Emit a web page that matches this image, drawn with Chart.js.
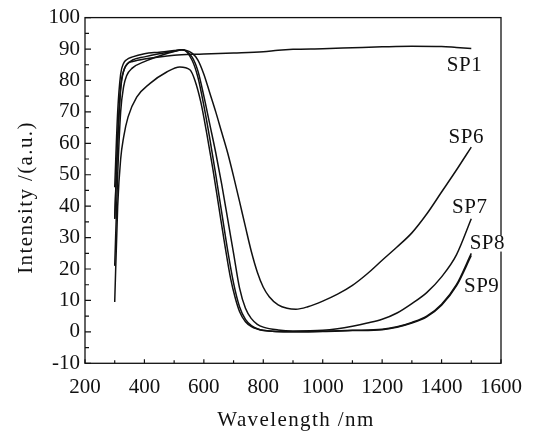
<!DOCTYPE html>
<html>
<head>
<meta charset="utf-8">
<script src="https://cdn.jsdelivr.net/npm/chart.js@4.4.1/dist/chart.umd.min.js"></script>
<style>
  html, body { margin: 0; padding: 0; background: #fff; }
  #wrap { width: 534px; height: 432px; }
</style>
</head>
<body>
<div id="wrap"><canvas id="spectraChart" width="534" height="432"></canvas></div>
<script>
// wavelength (nm) / intensity (a.u.)
var sp1Wl  = [300, 310, 320, 330, 345, 360, 400, 450, 500, 560, 600, 700, 800, 850, 900, 1000, 1100, 1200, 1300, 1400, 1450, 1500];
var sp1Int = [36, 60, 77, 83, 85.5, 86, 86.8, 87.5, 88, 88.3, 88.4, 88.7, 89.1, 89.6, 89.9, 90.1, 90.4, 90.7, 90.9, 90.8, 90.5, 90.2];

var sp6Wl  = [300, 310, 320, 330, 340, 360, 400, 450, 500, 525, 560, 580, 600, 620, 640, 660, 680, 700, 720, 740, 760, 780, 800, 820, 850, 880, 910, 950, 1000, 1050, 1100, 1150, 1200, 1250, 1300, 1350, 1400, 1450, 1500];
var sp6Int = [46, 70, 82, 85.5, 86.6, 87.5, 88.5, 89, 89.5, 89.8, 88.7, 86.5, 82, 76, 70, 63.5, 57, 49.5, 41.5, 33.4, 25.5, 19, 14.2, 11.2, 8.6, 7.5, 7.2, 8, 9.8, 12, 14.8, 18.5, 22.8, 27, 31.5, 37.5, 44.5, 51.5, 58.8];

var sp7Wl  = [300, 310, 320, 330, 340, 360, 400, 450, 500, 525, 560, 580, 600, 620, 640, 660, 680, 700, 720, 740, 760, 780, 800, 850, 900, 1000, 1050, 1100, 1150, 1200, 1250, 1300, 1350, 1400, 1450, 1500];
var sp7Int = [36, 62, 78, 83, 85, 86.5, 87.5, 88.5, 89.3, 89.8, 87.5, 83, 75, 66, 57, 47, 36, 25, 14, 7.5, 4.2, 2.4, 1.5, 0.6, 0.3, 0.5, 1, 1.8, 2.8, 4, 6, 9, 12.5, 17.5, 24.5, 36];

var sp8Wl  = [300, 310, 320, 330, 340, 360, 400, 450, 500, 530, 560, 580, 600, 620, 640, 660, 680, 700, 720, 740, 760, 780, 800, 900, 1000, 1100, 1200, 1250, 1300, 1350, 1400, 1450, 1500];
var sp8Int = [21, 50, 70, 78, 81.5, 84, 86, 87.8, 89.2, 89.8, 86.5, 81, 72, 61.5, 50, 38, 26, 15.5, 8, 4, 2, 1, 0.5, 0, 0.2, 0.5, 0.8, 1.6, 3, 5, 8.8, 15, 25];

var sp9Wl  = [300, 310, 320, 330, 345, 374, 418, 475, 519, 553, 570, 590, 610, 630, 650, 670, 690, 705, 720, 740, 760, 780, 800, 900, 1000, 1100, 1200, 1250, 1300, 1350, 1400, 1450, 1500];
var sp9Int = [9.5, 40, 55, 62, 68.4, 74.7, 79, 82.7, 84.3, 83.4, 80, 73, 63, 52, 40, 28, 17, 11, 6.5, 3.2, 1.7, 0.9, 0.4, 0, 0.1, 0.4, 0.7, 1.5, 2.8, 4.8, 8.5, 14.6, 24.3];

// curve labels, placed in data units
var labelNames = ['SP1', 'SP6', 'SP7', 'SP8', 'SP9'];
var labelX = [1477, 1483, 1495, 1554, 1535];
var labelY = [84.8, 62, 39.7, 28.1, 14.3];

var xMin = 200, xMax = 1600, yMin = -10, yMax = 100;
var serif = '"Liberation Serif", "Times New Roman", serif';
var ink = '#111';

function pts(xs, ys) {
    return xs.map(function (x, i) { return { x: x, y: ys[i] }; });
}

function curve(name, xs, ys) {
    return {
        label: name,
        data: pts(xs, ys),
        borderColor: ink,
        borderWidth: 1.5,
        pointRadius: 0,
        fill: false,
        cubicInterpolationMode: 'monotone'
    };
}

// frame, inward ticks, titles and curve labels
var decorations = {
    id: 'decorations',
    afterDraw: function (chart) {
        var ctx = chart.ctx, a = chart.chartArea;
        var xs = chart.scales.x, ys = chart.scales.y;
        var v, p;
        ctx.save();
        ctx.strokeStyle = ink;
        ctx.lineWidth = 1.3;
        ctx.strokeRect(a.left, a.top, a.right - a.left, a.bottom - a.top);

        ctx.lineWidth = 1.2;
        ctx.beginPath();
        for (v = xMin; v <= xMax; v += 100) {
            p = xs.getPixelForValue(v);
            ctx.moveTo(p, a.bottom);
            ctx.lineTo(p, a.bottom - (v % 200 === 0 ? 4 : 3));
        }
        for (v = yMin; v <= yMax; v += 5) {
            p = ys.getPixelForValue(v);
            ctx.moveTo(a.left, p);
            ctx.lineTo(a.left + (v % 10 === 0 ? 6 : 4), p);
        }
        ctx.stroke();

        // axis titles
        ctx.fillStyle = ink;
        ctx.font = '21px ' + serif;
        ctx.letterSpacing = '1.4px';
        ctx.textAlign = 'center';
        ctx.textBaseline = 'middle';
        ctx.fillText('Wavelength /nm', (a.left + a.right) / 2 + 3, chart.height - 12);
        ctx.save();
        ctx.translate(26, (a.top + a.bottom) / 2 + 7);
        ctx.rotate(-Math.PI / 2);
        ctx.fillText('Intensity /(a.u.)', 0, 0);
        ctx.restore();

        // curve labels
        ctx.letterSpacing = '0.5px';
        for (var i = 0; i < labelNames.length; i++) {
            var lx = xs.getPixelForValue(labelX[i]);
            var ly = ys.getPixelForValue(labelY[i]);
            if (lx + 18 > a.right) {
                var w = ctx.measureText(labelNames[i]).width;
                ctx.fillStyle = '#fff';
                ctx.fillRect(lx - w / 2, ly - 8, w, 16);
                ctx.fillStyle = ink;
            }
            ctx.fillText(labelNames[i], lx, ly);
        }
        ctx.restore();
    }
};

var ctx1 = document.getElementById('spectraChart');

var spectraChart = new Chart(ctx1, {
    type: 'line',
    data: {
        datasets: [
            curve('SP1', sp1Wl, sp1Int),
            curve('SP6', sp6Wl, sp6Int),
            curve('SP7', sp7Wl, sp7Int),
            curve('SP8', sp8Wl, sp8Int),
            curve('SP9', sp9Wl, sp9Int)
        ]
    },
    options: {
        responsive: false,
        animation: false,
        devicePixelRatio: 1,
        layout: { padding: { top: 17, right: 32, left: 0, bottom: 0 } },
        plugins: {
            legend: { display: false },
            tooltip: { enabled: false }
        },
        scales: {
            x: {
                type: 'linear',
                min: xMin,
                max: xMax,
                grid: { display: false, drawTicks: false },
                border: { display: false },
                ticks: {
                    stepSize: 200,
                    padding: 12,
                    maxRotation: 0,
                    color: ink,
                    font: { family: serif, size: 21 },
                    callback: function (v) { return String(v); }
                },
                afterFit: function (s) { s.height = 68.7; }
            },
            y: {
                min: yMin,
                max: yMax,
                grid: { display: false, drawTicks: false },
                border: { display: false },
                ticks: {
                    stepSize: 10,
                    padding: 5,
                    color: ink,
                    font: { family: serif, size: 21 },
                    callback: function (v) { return String(v); }
                },
                afterFit: function (s) { s.width = 85; }
            }
        }
    },
    plugins: [decorations]
});
</script>
</body>
</html>
